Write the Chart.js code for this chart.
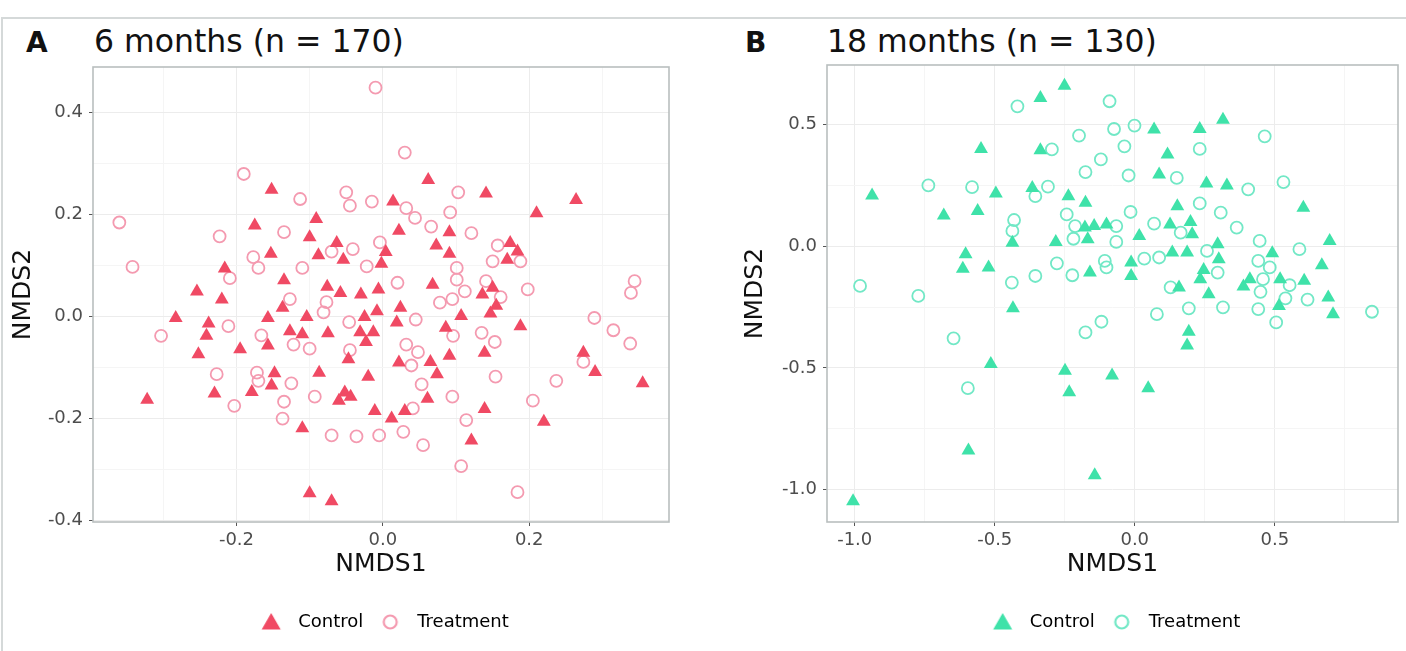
<!DOCTYPE html>
<html>
<head>
<meta charset="utf-8">
<script src="https://cdn.jsdelivr.net/npm/chart.js@4.4.1/dist/chart.umd.min.js"></script>
<style>
  html, body { margin: 0; padding: 0; background: #fff; }
  body { width: 1406px; height: 651px; position: relative; overflow: hidden; font-family: "DejaVu Sans", sans-serif; }
  .frame { position: absolute; left: 1px; top: 17px; width: 1420px; height: 660px; border-top: 2px solid #d5d9d9; border-left: 2px solid #d5d9d9; }
  .tag { position: absolute; top: 28px; font-size: 28px; line-height: 30px; font-weight: bold; color: #111; }
  .ttl { position: absolute; top: 26px; font-size: 31.5px; line-height: 30px; color: #111; }
  canvas { position: absolute; top: 0; }
</style>
</head>
<body>
<div class="frame"></div>
<div class="tag" style="left:26px">A</div>
<div class="ttl" style="left:94px">6 months (n = 170)</div>
<div class="tag" style="left:745px">B</div>
<div class="ttl" style="left:827px">18 months (n = 130)</div>
<canvas id="chartA" width="700" height="651" style="left:0"></canvas>
<canvas id="chartB" width="706" height="651" style="left:700px"></canvas>

<script>
// 6 months - Control (triangles)
const ctrl6X = [-0.152, -0.175, -0.153, -0.216, -0.254, -0.220, -0.283, -0.238, -0.241, -0.157, -0.252, -0.195, -0.157, -0.148, -0.152, -0.179, -0.230, -0.322,
  0.062, 0.014, -0.091, 0.022, -0.100, 0.091, -0.063, -0.088, -0.054, 0.004, -0.002, 0.073, 0.091, -0.135, -0.076, -0.058, -0.030, -0.006, 0.068, -0.137,
  -0.104, -0.025, -0.008, 0.024, 0.019, -0.127, -0.110, -0.075, -0.031, -0.013, -0.023, 0.086, 0.107, -0.047, 0.022, 0.065, 0.091, 0.074, -0.087, -0.020,
  -0.052, -0.044, -0.060, 0.061, -0.011, 0.012, 0.030, -0.110, 0.121, -0.100, -0.070,
  0.141, 0.264, 0.210, 0.174, 0.184, 0.170, 0.150, 0.136, 0.155, 0.147, 0.188, 0.139, 0.274, 0.290, 0.355, 0.139, 0.220];
const ctrl6Y = [0.248, 0.178, 0.123, 0.094, 0.049, 0.033, -0.003, -0.014, -0.038, -0.003, -0.074, -0.064, -0.057, -0.111, -0.135, -0.148, -0.151, -0.163,
  0.267, 0.225, 0.191, 0.168, 0.155, 0.165, 0.144, 0.120, 0.111, 0.126, 0.103, 0.139, 0.123, 0.071, 0.058, 0.046, 0.043, 0.053, 0.062, 0.017,
  -0.001, -0.001, 0.010, 0.017, -0.012, -0.029, -0.035, -0.033, -0.031, -0.031, -0.050, -0.022, 0.001, -0.084, -0.090, -0.089, -0.077, -0.113, -0.110, -0.118,
  -0.149, -0.157, -0.165, -0.161, -0.185, -0.200, -0.185, -0.219, -0.243, -0.346, -0.362,
  0.241, 0.228, 0.202, 0.144, 0.127, 0.111, 0.056, 0.043, 0.021, 0.006, -0.019, -0.071, -0.071, -0.109, -0.131, -0.181, -0.206];

// 6 months - Treatment (circles)
const trt6X = [-0.190, -0.360, -0.342, -0.223, -0.177, -0.170, -0.209, -0.303, -0.211, -0.166, -0.227, -0.172, -0.170, -0.203,
  -0.010, 0.030, 0.103, -0.050, -0.045, -0.015, -0.113, 0.032, 0.044, 0.066, 0.092, -0.135, 0.121, -0.004, -0.070, -0.041, -0.022, -0.110, 0.101, 0.101,
  0.020, 0.112, -0.127, -0.077, -0.081, 0.078, 0.095, -0.046, 0.045, 0.096, -0.122, -0.100, 0.032, 0.048, -0.045, 0.039, -0.125, 0.053, -0.135, -0.093,
  -0.137, 0.095, 0.041, 0.114, -0.070, -0.036, -0.005, 0.028, 0.055, 0.107,
  0.157, 0.150, 0.188, 0.141, 0.161, 0.198, 0.344, 0.339, 0.289, 0.315, 0.338, 0.135, 0.153, 0.274, 0.154, 0.237, 0.205, 0.184];
const trt6Y = [0.279, 0.184, 0.097, 0.157, 0.116, 0.095, 0.075, -0.038, -0.019, -0.037, -0.113, -0.110, -0.126, -0.175,
  0.448, 0.321, 0.243, 0.243, 0.217, 0.225, 0.230, 0.212, 0.193, 0.176, 0.204, 0.165, 0.163, 0.145, 0.127, 0.132, 0.098, 0.095, 0.095, 0.072,
  0.066, 0.049, 0.034, 0.028, 0.008, 0.027, 0.034, -0.011, -0.006, -0.038, -0.055, -0.063, -0.055, -0.070, -0.066, -0.096, -0.131, -0.133, -0.167, -0.157,
  -0.200, -0.157, -0.180, -0.203, -0.233, -0.235, -0.233, -0.226, -0.252, -0.293,
  0.139, 0.108, 0.108, 0.069, 0.038, 0.053, 0.069, 0.046, -0.003, -0.027, -0.053, -0.032, -0.050, -0.089, -0.118, -0.126, -0.165, -0.344];

// 18 months - Control (triangles)
const ctrl18X = [-0.549, -0.938, -0.496, -0.682, -0.561, -0.604, -0.614, -0.522, -0.514, -0.594, -1.006,
  -0.251, -0.337, 0.069, 0.232, -0.337, 0.117, 0.087, -0.366, -0.237, -0.176, 0.152, -0.437, -0.282, -0.178, -0.145, -0.101, -0.168, 0.016,
  0.126, 0.199, 0.205, 0.134, 0.187, -0.013, -0.013, -0.160, -0.435, 0.158, 0.234, 0.193, 0.187, -0.249, -0.081, -0.234, 0.048, -0.143,
  0.315, 0.256, 0.329, 0.602, 0.696, 0.296, 0.491, 0.300, 0.668, 0.246, 0.411, 0.388, 0.519, 0.605, 0.264, 0.515, 0.691, 0.708];
const ctrl18Y = [0.400, 0.209, 0.217, 0.127, 0.145, -0.033, -0.092, -0.087, -0.484, -0.839, -1.048,
  0.660, 0.609, 0.480, 0.482, 0.395, 0.377, 0.295, 0.240, 0.206, 0.179, 0.165, 0.015, 0.018, 0.077, 0.083, 0.090, 0.029, 0.042,
  0.090, 0.100, 0.049, -0.026, -0.026, -0.067, -0.122, -0.108, -0.255, -0.169, -0.135, -0.351, -0.408, -0.511, -0.531, -0.600, -0.583, -0.941,
  0.520, 0.258, 0.250, 0.158, 0.022, 0.008, -0.029, -0.053, -0.078, -0.097, -0.135, -0.165, -0.135, -0.142, -0.197, -0.245, -0.210, -0.279];

// 18 months - Treatment (circles)
const trt18X = [-0.737, -0.581, -0.981, -0.773, -0.647, -0.596,
  -0.419, -0.090, -0.199, -0.074, -0.001, -0.296, -0.037, -0.121, -0.176, -0.022, -0.431, -0.437, -0.310, -0.355, -0.243, -0.213, -0.219, -0.066,
  -0.066, -0.015, 0.069, -0.439, -0.355, -0.278, -0.223, -0.107, -0.101, 0.034, 0.087, 0.128, 0.193, 0.079, -0.119, -0.176, 0.150, 0.164,
  0.232, 0.464, 0.531, 0.405, 0.232, 0.307, 0.364, 0.446, 0.588, 0.258, 0.296, 0.441, 0.482, 0.458, 0.449, 0.553, 0.538, 0.617, 0.315, 0.441, 0.505, 0.847];
const trt18Y = [0.250, 0.243, -0.163, -0.204, -0.378, -0.583,
  0.575, 0.596, 0.455, 0.482, 0.496, 0.398, 0.411, 0.357, 0.305, 0.291, 0.108, 0.063, 0.245, 0.206, 0.131, 0.083, 0.031, 0.083,
  0.018, 0.141, 0.093, -0.149, -0.122, -0.070, -0.119, -0.060, -0.087, -0.051, -0.046, -0.169, -0.255, -0.279, -0.310, -0.354, 0.281, 0.056,
  0.400, 0.452, 0.264, 0.234, 0.176, 0.138, 0.077, 0.022, -0.012, -0.019, -0.108, -0.060, -0.087, -0.135, -0.187, -0.160, -0.214, -0.219, -0.251, -0.258, -0.313, -0.269];

const groupLabels = ["Control", "Treatment"];

function pts(xs, ys) {
  return xs.map((x, i) => ({ x: x, y: ys[i] }));
}

// small legend keys
function legendIcon(shape, color) {
  const c = document.createElement("canvas");
  c.width = 24; c.height = 24;
  const g = c.getContext("2d");
  if (shape === "triangle") {
    g.fillStyle = color;
    g.beginPath();
    g.moveTo(12, 3);
    g.lineTo(21.5, 19.5);
    g.lineTo(2.5, 19.5);
    g.closePath();
    g.fill();
  } else {
    g.strokeStyle = color;
    g.lineWidth = 2.2;
    g.beginPath();
    g.arc(12, 12, 6.5, 0, Math.PI * 2);
    g.stroke();
  }
  return c;
}

const panelBorder = {
  id: "panelBorder",
  afterDatasetsDraw(chart) {
    const { ctx, chartArea: a } = chart;
    ctx.save();
    ctx.strokeStyle = "#b9bfbf";
    ctx.lineWidth = 1.6;
    ctx.strokeRect(a.left, a.top, a.right - a.left, a.bottom - a.top);
    ctx.restore();
  }
};

function axis(o) {
  const isMajor = (v) => Math.abs(Math.round(v / o.step)) % 2 === 0;
  return {
    type: "linear",
    min: o.min,
    max: o.max,
    afterFit: o.fit,
    border: { display: false },
    grid: {
      color: (c) => (c.tick && isMajor(c.tick.value) ? "#ececec" : "#f5f5f5"),
      lineWidth: 1,
      drawTicks: true,
      tickLength: 4,
      tickColor: (c) => (c.tick && isMajor(c.tick.value) ? "#555" : "rgba(0,0,0,0)")
    },
    ticks: {
      stepSize: o.step,
      includeBounds: false,
      autoSkip: false,
      maxRotation: 0,
      minRotation: 0,
      padding: o.pad,
      color: "#4d4d4d",
      font: { family: "DejaVu Sans", size: 18 },
      callback: (v) => (isMajor(v) ? v.toFixed(1) : "")
    },
    title: {
      display: true,
      text: o.title,
      color: "#111",
      font: { family: "DejaVu Sans", size: 25 },
      padding: o.tpad
    }
  };
}

function makePanel(id, p) {
  const icons = [legendIcon("triangle", p.col), legendIcon("circle", p.col2)];
  return new Chart(document.getElementById(id), {
    type: "scatter",
    data: {
      datasets: [
        {
          label: groupLabels[0],
          data: pts(p.cx, p.cy),
          pointStyle: "triangle",
          pointRadius: 8,
          pointHoverRadius: 8,
          backgroundColor: p.col,
          borderColor: p.col,
          borderWidth: 0
        },
        {
          label: groupLabels[1],
          data: pts(p.tx, p.ty),
          pointStyle: "circle",
          pointRadius: 6,
          pointHoverRadius: 6,
          backgroundColor: "rgba(0,0,0,0)",
          borderColor: p.col2,
          borderWidth: 1.8
        }
      ]
    },
    options: {
      responsive: false,
      animation: false,
      layout: { padding: { left: p.padL, right: p.padR, top: p.padT, bottom: 10 } },
      plugins: {
        tooltip: { enabled: false },
        legend: {
          position: "bottom",
          fullSize: false,
          onClick: null,
          labels: {
            usePointStyle: true,
            pointStyleWidth: 36,
            boxHeight: 17,
            padding: 9,
            color: "#333",
            font: { family: "DejaVu Sans", size: 18 },
            generateLabels: (chart) =>
              chart.data.datasets.map((ds, i) => ({
                text: ds.label,
                pointStyle: icons[i],
                fillStyle: "rgba(0,0,0,0)",
                strokeStyle: "rgba(0,0,0,0)",
                lineWidth: 0,
                hidden: false,
                datasetIndex: i
              }))
          }
        }
      },
      scales: {
        x: axis({ min: p.xmin, max: p.xmax, step: p.xstep, title: "NMDS1", pad: 4,
                  tpad: { top: 0, bottom: 25 }, fit: (s) => { s.height = 82; } }),
        y: axis({ min: p.ymin, max: p.ymax, step: p.ystep, title: "NMDS2", pad: 6,
                  tpad: { top: 8, bottom: 0 }, fit: (s) => { s.width = p.yw; } })
      }
    },
    plugins: [panelBorder]
  });
}

makePanel("chartA", {
  cx: ctrl6X, cy: ctrl6Y, tx: trt6X, ty: trt6Y,
  col: "#f04a64", col2: "#f49ab0",
  xmin: -0.396, xmax: 0.391, xstep: 0.1,
  ymin: -0.4025, ymax: 0.4885, ystep: 0.1,
  padL: 0, padR: 31, padT: 67, yw: 93
});

makePanel("chartB", {
  cx: ctrl18X, cy: ctrl18Y, tx: trt18X, ty: trt18Y,
  col: "#3fe2a9", col2: "#72e8c6",
  xmin: -1.099, xmax: 0.94, xstep: 0.25,
  ymin: -1.133, ymax: 0.745, ystep: 0.25,
  padL: 32, padR: 3, padT: 65, yw: 95
});
</script>
</body>
</html>
